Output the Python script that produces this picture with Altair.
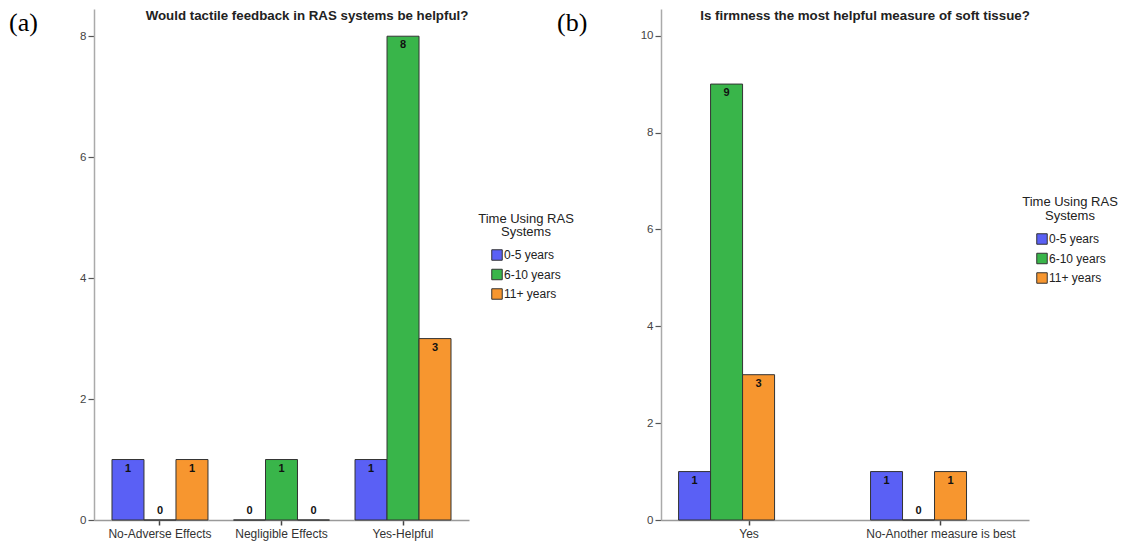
import altair as alt
import pandas as pd

groups = ["0-5 years", "6-10 years", "11+ years"]
colors = ["#5a60f5", "#39b54a", "#f7962f"]

a_categories = ["No-Adverse Effects", "Negligible Effects", "Yes-Helpful"]
a_0_5 = [1, 0, 1]
a_6_10 = [0, 1, 8]
a_11 = [1, 0, 3]

b_categories = ["Yes", "No-Another measure is best"]
b_0_5 = [1, 1]
b_6_10 = [9, 0]
b_11 = [3, 1]

a_title = "Would tactile feedback in RAS systems be helpful?"
b_title = "Is firmness the most helpful measure of soft tissue?"
legend_title = ["Time Using RAS", "Systems"]


def long(cats, s1, s2, s3):
    rows = []
    for i, c in enumerate(cats):
        for g, s in zip(groups, (s1, s2, s3)):
            rows.append({"cat": c, "grp": g, "n": s[i]})
    return pd.DataFrame(rows)


def one():
    return alt.Chart(pd.DataFrame({"k": [0]}))


def panel(df, cats, w, ymax, yvals, pin, pout, title, title_x,
          leg_x, leg_y, lt_x, lt_y1, lt_y2, tag, tag_x):
    x = alt.X("cat:N", sort=cats, title=None,
              scale=alt.Scale(paddingInner=pin, paddingOuter=pout),
              axis=alt.Axis(labelAngle=0, domainColor="#9a9a9a", domainWidth=1.5,
                            tickColor="#444", tickSize=5, tickWidth=1.5,
                            labelFontSize=12, labelColor="#333", labelPadding=3,
                            grid=False))
    y = alt.Y("n:Q", title=None,
              scale=alt.Scale(domain=[0, ymax], nice=False, zero=True),
              axis=alt.Axis(values=yvals, domainColor="#aaaaaa", domainWidth=1.5,
                            tickColor="#555", tickSize=6, tickWidth=1.2,
                            labelFontSize=11.5, labelColor="#444", labelPadding=2,
                            grid=False))
    xo = alt.XOffset("grp:N", sort=groups,
                     scale=alt.Scale(paddingInner=0, paddingOuter=0))
    color = alt.Color("grp:N", sort=groups,
                      scale=alt.Scale(domain=groups, range=colors),
                      legend=alt.Legend(title=None, orient="none", legendX=leg_x,
                                        legendY=leg_y, symbolType="square",
                                        symbolSize=110, symbolStrokeColor="#333",
                                        symbolStrokeWidth=1, symbolOpacity=1,
                                        labelFontSize=12, labelColor="#222",
                                        rowPadding=3.5, labelOffset=1, padding=0))
    base = alt.Chart(df).encode(x=x, xOffset=xo)
    bars = base.mark_bar(stroke="#333", strokeWidth=1, opacity=1).encode(y=y, color=color)
    lab_pos = base.transform_filter("datum.n > 0").mark_text(
        dy=9, fontWeight="bold", fontSize=11, color="#111", baseline="middle"
    ).encode(y=y, text="n:Q")
    lab_zero = base.transform_filter("datum.n == 0").mark_text(
        dy=-9, fontWeight="bold", fontSize=11, color="#111", baseline="middle"
    ).encode(y=y, text="n:Q")
    ttl = one().mark_text(text=title, fontWeight="bold", fontSize=13.3, color="#222",
                          align="center", baseline="middle").encode(
        x=alt.value(title_x), y=alt.value(7))
    lt1 = one().mark_text(text=legend_title[0], fontSize=13, color="#222",
                          align="center", baseline="middle").encode(
        x=alt.value(lt_x), y=alt.value(lt_y1))
    lt2 = one().mark_text(text=legend_title[1], fontSize=13, color="#222",
                          align="center", baseline="middle").encode(
        x=alt.value(lt_x), y=alt.value(lt_y2))
    tg = one().mark_text(text=tag, font="Liberation Serif", fontSize=26, color="#000",
                         align="left", baseline="middle").encode(
        x=alt.value(tag_x), y=alt.value(14))
    return alt.layer(bars, lab_pos, lab_zero, ttl, lt1, lt2, tg).properties(
        width=w, height=511)


left = panel(long(a_categories, a_0_5, a_6_10, a_11), a_categories, 375, 8.45,
             [0, 2, 4, 6, 8], 0.21, 0.148, a_title, 213,
             397, 240, 432, 210, 223, "(a)", -85)
right = panel(long(b_categories, b_0_5, b_6_10, b_11), b_categories, 368, 10.55,
              [0, 2, 4, 6, 8, 10], 0.266, 0.0915, b_title, 204,
              375, 224, 409, 193, 206.5, "(b)", -104)

chart = alt.hconcat(left, right, spacing=192, bounds="flush").resolve_scale(
    color="independent", y="independent", x="independent"
).resolve_legend(color="independent").properties(
    padding={"left": 9, "top": 9, "right": 2, "bottom": 2}
).configure(font="Liberation Sans").configure_view(stroke=None)

chart.save("out.html", embed_options={"renderer": "svg", "actions": False})
